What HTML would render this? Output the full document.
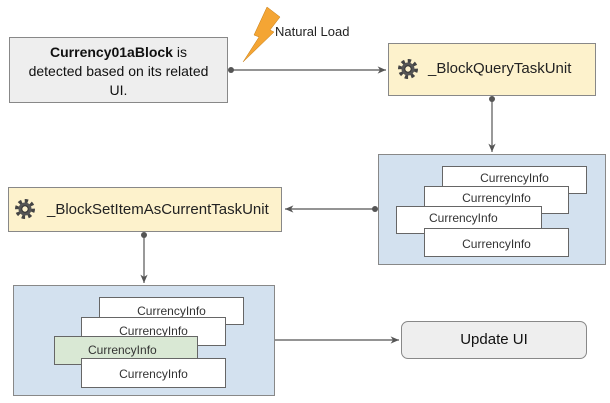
<!DOCTYPE html>
<html><head><meta charset="utf-8"><style>
body{margin:0;width:610px;height:403px;background:#fff;font-family:"Liberation Sans",sans-serif;position:relative;overflow:hidden}
.b{position:absolute;box-sizing:border-box;border:1px solid #888}
.c{position:absolute;box-sizing:border-box;border:1px solid #666;background:#fff;font-size:12px;color:#333;text-align:center;padding-top:4px}
.t{position:absolute;color:#222}
</style></head><body>
<div class="b" style="left:9px;top:37px;width:219px;height:66px;background:#eeeeee;font-size:14px;text-align:center;line-height:19px;padding-top:5px;color:#111"><b>Currency01aBlock</b> is<br>detected based on its related<br>UI.</div>
<div class="b" style="left:388px;top:43px;width:208px;height:53px;background:#fdf2cc"></div>
<div class="t" style="left:428px;top:60px;font-size:15px">_BlockQueryTaskUnit</div>
<div class="b" style="left:378px;top:154px;width:228px;height:111px;background:#d3e1ef"></div>
<div class="c" style="left:442px;top:166px;width:145px;height:28px">CurrencyInfo</div>
<div class="c" style="left:424px;top:186px;width:145px;height:28px">CurrencyInfo</div>
<div class="c" style="left:396px;top:206px;width:146px;height:28px;text-align:left;padding-left:32px">CurrencyInfo</div>
<div class="c" style="left:424px;top:228px;width:145px;height:29px;padding-top:8px">CurrencyInfo</div>
<div class="b" style="left:8px;top:187px;width:274px;height:45px;background:#fdf2cc"></div>
<div class="t" style="left:47px;top:201px;font-size:15px">_BlockSetItemAsCurrentTaskUnit</div>
<div class="b" style="left:13px;top:285px;width:262px;height:111px;background:#d3e1ef"></div>
<div class="c" style="left:99px;top:297px;width:145px;height:28px;padding-top:6px">CurrencyInfo</div>
<div class="c" style="left:81px;top:317px;width:145px;height:29px;padding-top:6px">CurrencyInfo</div>
<div class="c" style="left:54px;top:336px;width:144px;height:29px;background:#d9e8d4;text-align:left;padding-left:33px;padding-top:6px">CurrencyInfo</div>
<div class="c" style="left:81px;top:358px;width:145px;height:30px;padding-top:8px">CurrencyInfo</div>
<div class="b" style="left:401px;top:321px;width:186px;height:38px;background:#eeeeee;border-radius:7px;font-size:15px;text-align:center;line-height:36px;color:#111">Update UI</div>
<div class="t" style="left:275px;top:24px;font-size:13px">Natural Load</div>
<svg width="610" height="403" style="position:absolute;left:0;top:0" fill="none">
<defs><marker id="a" markerWidth="8" markerHeight="8" refX="7" refY="4" orient="auto"><path d="M0,1 L7,4 L0,7 L2,4Z" fill="#555"/></marker>
<g id="g"><circle r="8" fill="none" stroke="#444" stroke-width="4" stroke-dasharray="3.2 3"/><circle r="6.5" fill="#555"/><circle r="3.2" fill="#fdf2cc" stroke="#333"/></g></defs>
<path d="M243,62 L259,37 L254,35 L267,7 L280,17 L270,30 L274,32Z" fill="#f4a534" stroke="#c27a12" stroke-width="0.5"/>
<g stroke="#555" stroke-width="1.2">
<line x1="231" y1="70" x2="386" y2="70" marker-end="url(#a)"/>
<line x1="492" y1="99" x2="492" y2="152" marker-end="url(#a)"/>
<line x1="375" y1="209" x2="285" y2="209" marker-end="url(#a)"/>
<line x1="144" y1="235" x2="144" y2="283" marker-end="url(#a)"/>
<line x1="275" y1="340" x2="399" y2="340" marker-end="url(#a)"/>
</g>
<g fill="#555"><circle cx="231" cy="70" r="3"/><circle cx="492" cy="99" r="3"/><circle cx="375" cy="209" r="3"/><circle cx="144" cy="235" r="3"/></g>
<use href="#g" x="408" y="69"/><use href="#g" x="25" y="209"/>
</svg>
</body></html>
